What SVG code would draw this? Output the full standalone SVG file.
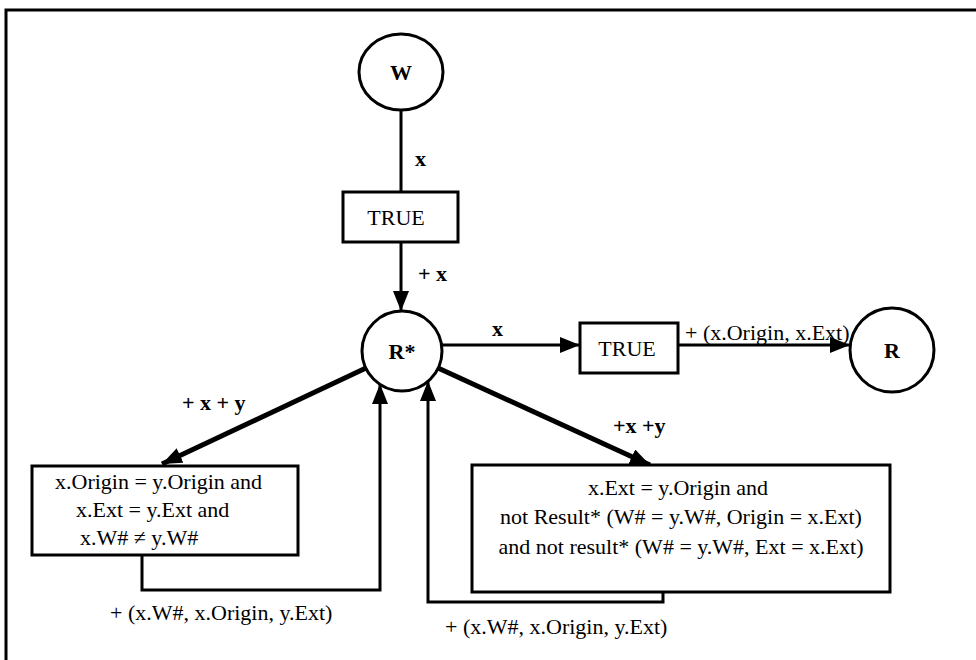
<svg xmlns="http://www.w3.org/2000/svg" width="976" height="660" viewBox="0 0 976 660">
<defs>
<style>
.t{font-family:"Liberation Serif","Times New Roman",serif;font-size:22px;fill:#000}
.b{font-weight:bold}
.m{text-anchor:middle}
.node{fill:#fff;stroke:#000;stroke-width:3}
.ln{fill:none;stroke:#000;stroke-width:3}
.th{fill:none;stroke:#000;stroke-width:5}
</style>
<marker id="ah" markerUnits="userSpaceOnUse" markerWidth="22" markerHeight="18" refX="20" refY="8" orient="auto">
<path d="M0,0 L20,8 L0,16 z" fill="#000"/>
</marker>
</defs>
<rect width="976" height="660" fill="#fff"/>
<g id="frame"><path d="M6,660 V10 H976" fill="none" stroke="#000" stroke-width="3"/></g>
<g id="connectors">
<line class="ln" x1="401" y1="110" x2="401" y2="192"/>
<line class="ln" x1="401" y1="242" x2="401" y2="311" marker-end="url(#ah)"/>
<line class="ln" x1="442" y1="345" x2="580" y2="345" marker-end="url(#ah)"/>
<line class="ln" x1="678" y1="345" x2="850" y2="345" marker-end="url(#ah)"/>
<line class="th" x1="366" y1="368" x2="162" y2="464" marker-end="url(#ah)"/>
<line class="th" x1="438" y1="368" x2="650" y2="465" marker-end="url(#ah)"/>
<path class="ln" d="M142,555 V590 H380 V384" marker-end="url(#ah)"/>
<path class="ln" d="M663,592 V602 H428 V381" marker-end="url(#ah)"/>
<text class="t b" x="415" y="166">x</text>
<text class="t b" x="418" y="281">+ x</text>
<text class="t b" x="492" y="336">x</text>
<text class="t" x="685" y="340">+ (x.Origin, x.Ext)</text>
<text class="t b" x="182" y="410">+ x + y</text>
<text class="t b" x="613" y="433">+x +y</text>
<text class="t" x="110" y="620">+ (x.W#, x.Origin, y.Ext)</text>
<text class="t" x="445" y="634">+ (x.W#, x.Origin, y.Ext)</text>
</g>
<g id="W"><ellipse class="node" cx="401" cy="72" rx="42" ry="38"/><text class="t b m" x="401" y="80">W</text></g>
<g id="TRUE1"><rect class="node" x="343" y="192" width="115" height="50"/><text class="t m" x="396" y="225">TRUE</text></g>
<g id="Rstar"><circle class="node" cx="402" cy="351" r="40"/><text class="t b m" x="402" y="359">R*</text></g>
<g id="TRUE2"><rect class="node" x="580" y="323" width="98" height="50"/><text class="t m" x="627" y="356">TRUE</text></g>
<g id="R"><circle class="node" cx="892" cy="350" r="42"/><text class="t b m" x="892" y="358">R</text></g>
<g id="cond1"><rect class="node" x="32" y="466" width="266" height="89"/>
<text class="t" x="55" y="489">x.Origin = y.Origin and</text>
<text class="t" x="76" y="517">x.Ext = y.Ext and</text>
<text class="t" x="80" y="545">x.W# ≠ y.W#</text></g>
<g id="cond2"><rect class="node" x="472" y="465" width="418" height="127"/>
<text class="t m" x="678" y="495">x.Ext = y.Origin and</text>
<text class="t m" x="681" y="524">not Result* (W# = y.W#, Origin = x.Ext)</text>
<text class="t m" x="681" y="554">and not result* (W# = y.W#, Ext = x.Ext)</text></g>
</svg>
